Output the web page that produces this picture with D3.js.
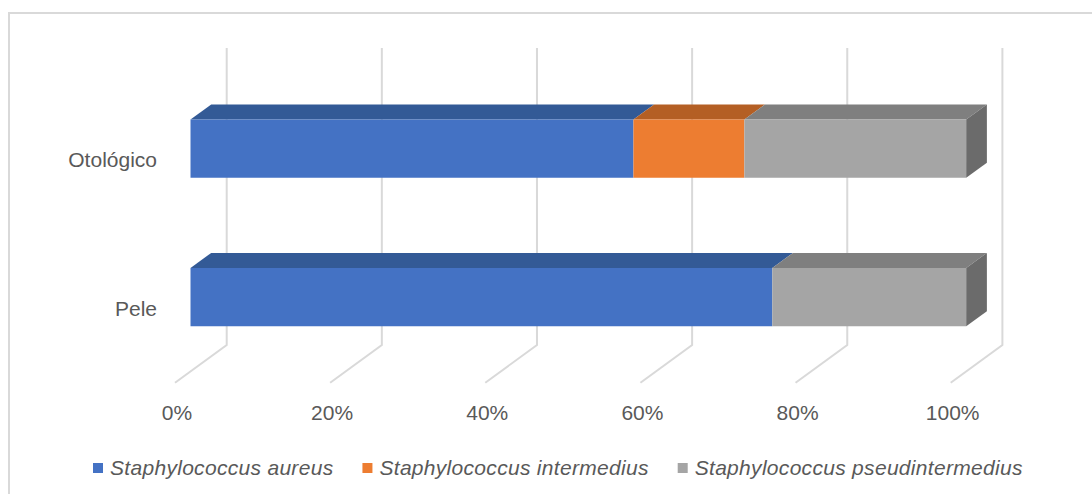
<html>
<head>
<meta charset="utf-8">
<style>
  body { margin: 0; background: #fff; }
  text { font-family: "Liberation Sans", Arial, sans-serif; fill: #595959; }
</style>
</head>
<body>
<svg id="chart" width="1092" height="494"></svg>
<script src="https://cdn.jsdelivr.net/npm/d3@7"></script>
<script>
// data (percent of isolates)
const categories = ["Otológico", "Pele"]
const seriesNames = ["Staphylococcus aureus", "Staphylococcus intermedius", "Staphylococcus pseudintermedius"]
const aureus = [57.1, 75.0]
const intermedius = [14.3, 0]
const pseudintermedius = [28.6, 25.0]
const ticks = [0, 20, 40, 60, 80, 100]

const frontColors = ["#4472C4", "#ED7D31", "#A5A5A5"]
const topColors = ["#335A96", "#B45F24", "#7F7F7F"]
const sideColors = ["#2D4F86", "#9E521F", "#6B6B6B"]

let svg = d3.select("#chart")

// chart border
svg.append("rect")
    .attr("x", 9).attr("y", 13)
    .attr("width", 1100).attr("height", 500)
    .attr("fill", "none")
    .attr("stroke", "#d9d9d9")
    .attr("stroke-width", 2)

// 3d projection: depth 0 = front of floor, 1 = back wall
const DX = 51.7, DY = 37.7
let x = d3.scaleLinear().domain([0, 100]).range([175, 950.7])
let y = d3.scaleBand().domain(categories).range([85.7, 382.7])
    .paddingInner(0.607).paddingOuter(0.3035)
const p = (v, yy, d) => [x(v) + d * DX, yy - d * DY]
const poly = pts => pts.map(q => q.join(",")).join(" ")

// back wall gridlines + floor lines
let grid = svg.append("g")
ticks.forEach(t => {
    grid.append("polyline")
        .attr("points", poly([p(t, 85.7, 1), p(t, 382.7, 1), p(t, 382.7, 0)]))
        .attr("fill", "none")
        .attr("stroke", "#d9d9d9")
        .attr("stroke-width", 2)
})

// tick labels
svg.append("g").selectAll("text")
    .data(ticks)
    .join("text")
    .attr("x", d => x(d) + 2)
    .attr("y", 420)
    .attr("text-anchor", "middle")
    .style("font-size", "21px")
    .text(d => d + "%")

// category labels
svg.append("g").selectAll("text")
    .data(categories)
    .join("text")
    .attr("x", 157)
    .attr("y", d => y(d) + y.bandwidth() / 2)
    .attr("dy", "0.35em")
    .attr("text-anchor", "end")
    .style("font-size", "21px")
    .text(d => d)

// bars
const values = [aureus, intermedius, pseudintermedius]
const d0 = 0.3, d1 = 0.7
let bars = svg.append("g")
categories.forEach((cat, ci) => {
    let y0 = y(cat), y1 = y(cat) + y.bandwidth()
    let segs = []
    let acc = 0
    values.forEach((vals, si) => {
        if (vals[ci] > 0) segs.push({ s: si, a: acc, b: acc + vals[ci] })
        acc += vals[ci]
    })
    segs.forEach((g, k) => {
        // top face
        bars.append("polygon")
            .attr("points", poly([p(g.a, y0, d0), p(g.b, y0, d0), p(g.b, y0, d1), p(g.a, y0, d1)]))
            .attr("fill", topColors[g.s])
        // front face
        bars.append("polygon")
            .attr("points", poly([p(g.a, y0, d0), p(g.b, y0, d0), p(g.b, y1, d0), p(g.a, y1, d0)]))
            .attr("fill", frontColors[g.s])
        // right side, only last segment shows
        if (k == segs.length - 1) {
            bars.append("polygon")
                .attr("points", poly([p(g.b, y0, d0), p(g.b, y0, d1), p(g.b, y1, d1), p(g.b, y1, d0)]))
                .attr("fill", sideColors[g.s])
        }
    })
})

// legend
let legend = svg.append("g")
let lx = 93
seriesNames.forEach((name, i) => {
    legend.append("rect")
        .attr("x", lx).attr("y", 463)
        .attr("width", 10).attr("height", 10)
        .attr("fill", frontColors[i])
    let t = legend.append("text")
        .attr("x", lx + 17)
        .attr("y", 475)
        .style("font-size", "21px")
        .style("font-style", "italic")
        .style("letter-spacing", "0.3px")
        .text(name)
    lx = lx + 17 + t.node().getComputedTextLength() + 29
})
</script>
</body>
</html>
